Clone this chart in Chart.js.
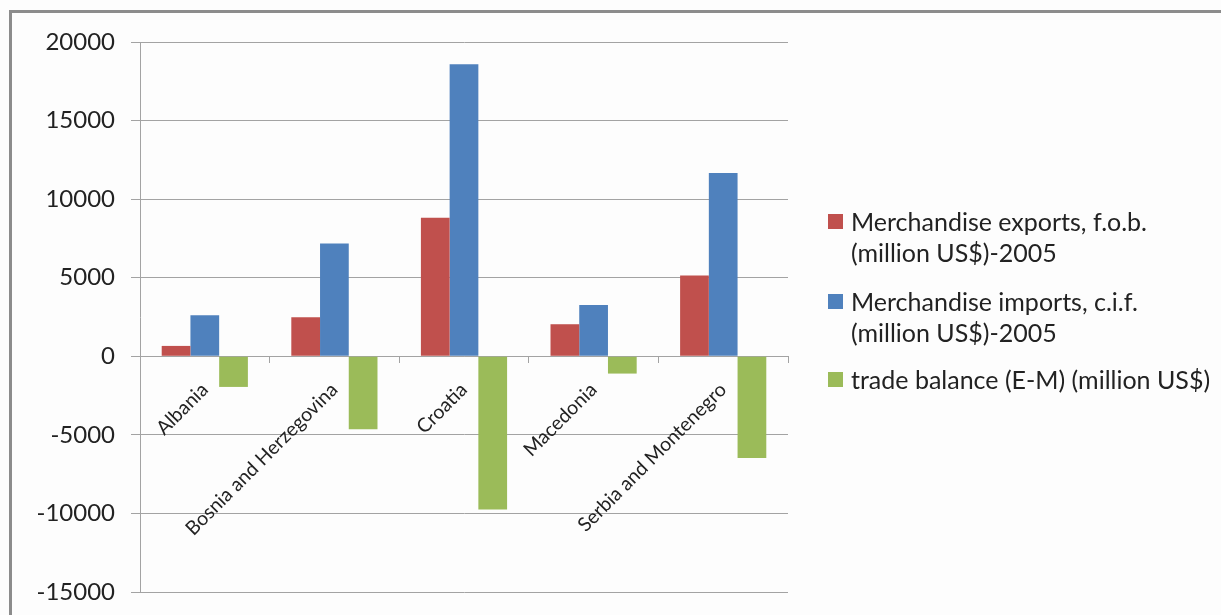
<!DOCTYPE html>
<html>
<head>
<meta charset="utf-8">
<script src="https://cdn.jsdelivr.net/npm/chart.js@4/dist/chart.umd.min.js"></script>
<style>
    html, body { margin: 0; padding: 0; background: #fdfdfd; }
    #wrap { position: relative; width: 1221px; height: 615px; overflow: hidden; font-family: Lato, sans-serif; color: #222; }
    #frame { position: absolute; left: 9px; top: 10px; width: 1300px; height: 700px; border-left: 3px solid #8c8c8c; border-top: 3px solid #8c8c8c; }
    #chart { position: absolute; left: 0; top: 0; }
    #legend { position: absolute; left: 828px; top: 0; }
    .item { position: absolute; left: 0; white-space: nowrap; }
    .box { position: absolute; left: 0; width: 15px; height: 15px; }
    .txt { position: absolute; left: 23px; font-size: 25px; line-height: 31px; }
</style>
</head>
<body>
<div id="wrap">
    <div id="frame"></div>
    <canvas id="chart" width="1221" height="615"></canvas>
    <div id="legend"></div>
</div>
<script>
// Countries
const countries = ['Albania', 'Bosnia and Herzegovina', 'Croatia', 'Macedonia', 'Serbia and Montenegro'];

// Values (million US$)
const exportsFob = [660, 2480, 8810, 2040, 5140];
const importsCif = [2610, 7180, 18580, 3270, 11660];
const tradeBalance = [-1950, -4650, -9750, -1100, -6480];

// Legend text, split the way it wraps in the original
const seriesLabels = [
    ['Merchandise exports, f.o.b.', '(million US$)-2005'],
    ['Merchandise imports, c.i.f.', '(million US$)-2005'],
    ['trade balance (E-M) (million US$)']
];
const seriesColors = ['#c0504d', '#4f81bd', '#9bbb59'];

// Y axis range
const yMin = -15000;
const yMax = 20000;
const yStep = 5000;

const gridColor = '#a3a3a3';

const ctx = document.getElementById('chart').getContext('2d');
new Chart(ctx, {
    type: 'bar',
    data: {
        labels: countries,
        datasets: [exportsFob, importsCif, tradeBalance].map((values, i) => ({
            label: seriesLabels[i].join(' '),
            data: values,
            backgroundColor: seriesColors[i],
            borderWidth: 0,
            barPercentage: 1,
            categoryPercentage: 0.665
        }))
    },
    options: {
        responsive: false,
        animation: false,
        layout: { padding: { left: 0, top: 42, right: 433, bottom: 23 } },
        plugins: {
            legend: { display: false },
            tooltip: { enabled: false }
        },
        scales: {
            x: {
                position: { y: 0 },
                // axis sits on the zero line, so it should not eat layout space
                afterFit: (scale) => { scale.height = 0; scale.paddingLeft = 0; scale.paddingRight = 0; },
                grid: { display: true, drawOnChartArea: false, color: gridColor, tickLength: 6, offset: true },
                border: { display: true, color: gridColor, width: 1 },
                ticks: {
                    minRotation: 45,
                    maxRotation: 45,
                    autoSkip: false,
                    padding: 16,
                    color: '#222',
                    font: { family: 'Lato', size: 19.5 }
                }
            },
            y: {
                min: yMin,
                max: yMax,
                afterFit: (scale) => { scale.width = 140; scale.paddingTop = 0; scale.paddingBottom = 0; },
                grid: { color: gridColor, tickLength: 9, lineWidth: 1 },
                border: { display: true, color: gridColor, width: 1 },
                ticks: {
                    stepSize: yStep,
                    padding: 16,
                    color: '#222',
                    font: { family: 'Lato', size: 24 },
                    callback: (value) => String(value)
                }
            }
        }
    }
});

// HTML legend on the right
const legend = document.getElementById('legend');
const itemTops = [206, 286, 364];
seriesLabels.forEach((lines, i) => {
    const item = document.createElement('div');
    item.className = 'item';
    item.style.top = itemTops[i] + 'px';
    item.innerHTML = `<div class="box" style="top:8px;background:${seriesColors[i]}"></div>
        <div class="txt">${lines.join('<br>')}</div>`;
    legend.appendChild(item);
});
</script>
</body>
</html>
